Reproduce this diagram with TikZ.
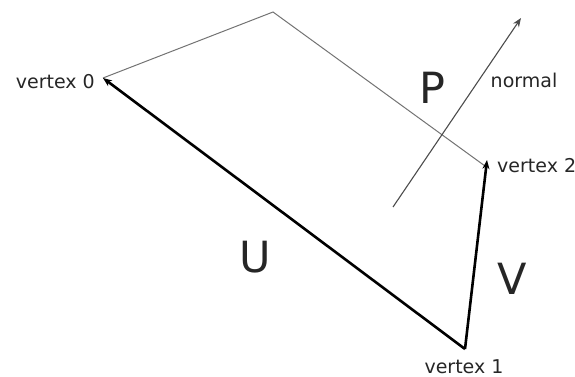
\documentclass[tikz,border=0pt]{standalone}
\usepackage{fontspec}
\setmainfont{DejaVu Sans}
\usepackage{tikz}
\usetikzlibrary{arrows.meta}

\begin{document}
\begin{tikzpicture}[
    x=1pt, y=-1pt,
    edge/.style={draw=black!55, line width=1pt},
    vec/.style={-{Stealth[length=9pt, width=7pt]}, line width=2.6pt, draw=black},
    normalarrow/.style={-{Stealth[length=9pt, width=7pt]}, line width=1.1pt, draw=black!70},
    vlabel/.style={font=\fontsize{19}{21}\selectfont, text=black!85, inner sep=1pt},
    biglabel/.style={font=\fontsize{43}{45}\selectfont, text=black!85, inner sep=0pt}
]
\useasboundingbox (0,0) rectangle (575,377);

% corners of the polygon
\coordinate (v0) at (103,78);
\coordinate (top) at (273,12);
\coordinate (v2) at (487,160);
\coordinate (v1) at (465,349);
\coordinate (nstart) at (393,207);
\coordinate (ntip) at (521,18);

% outline of the plane
\draw[edge] (v0) -- (top) -- (485,166);

% edge vectors
\draw[vec] (v1) -- (v0);
\draw[vec] (v1) -- (v2);

% plane normal
\draw[normalarrow] (nstart) -- (ntip);

\node[vlabel, anchor=east] (lv0) at (96,82) {vertex 0};
\node[vlabel, anchor=west] (lv2) at (496,166) {vertex 2};
\node[vlabel] (lv1) at (464,367) {vertex 1};
\node[vlabel] (lnormal) at (524,80) {normal};

\node[biglabel] (lp) at (432,88) {P};
\node[biglabel] (lu) at (255,257) {U};
\node[biglabel] (lvv) at (512,279) {V};
\end{tikzpicture}
\end{document}
